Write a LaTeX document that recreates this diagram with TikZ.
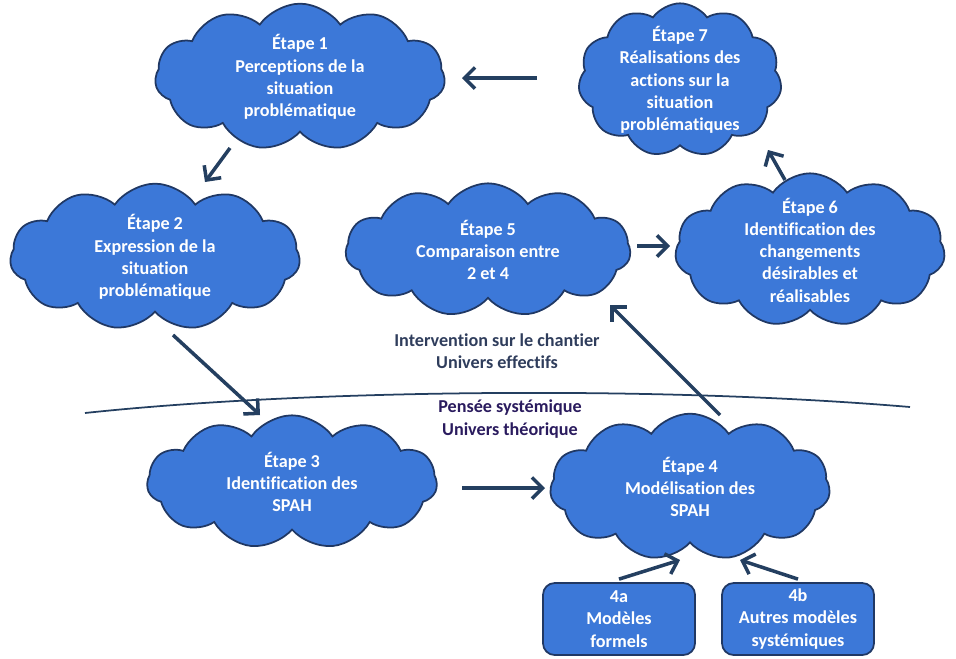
\documentclass[tikz,border=0pt]{standalone}
\usepackage{fontspec}
\setmainfont[Ligatures={NoCommon}]{Carlito}
\usetikzlibrary{arrows.meta,shapes.symbols,calc}
\definecolor{cloudblue}{HTML}{3C78D8}
\definecolor{edgenavy}{HTML}{203864}
\definecolor{arrownavy}{HTML}{243F60}
\definecolor{slatetext}{HTML}{2F3D5C}
\definecolor{purpletext}{HTML}{2A1B5E}

\begin{document}
\begin{tikzpicture}[x=0.03cm,y=-0.03cm,
  etape/.style={cloud,cloud puffs=11,cloud puff arc=110,cloud ignores aspect,draw=edgenavy,line width=1.5pt,fill=cloudblue,
    text=white,font=\bfseries\fontsize{15.5}{19}\selectfont,align=center,inner sep=-6pt},
  modele/.style={draw=edgenavy,line width=1.5pt,fill=cloudblue,rounded corners=10pt,
    text=white,font=\bfseries\fontsize{15.5}{19}\selectfont,align=center,
    minimum width=4.56cm,minimum height=2.16cm,inner sep=1pt},
  univers/.style={font=\bfseries\fontsize{15.5}{19}\selectfont,align=center},
  arr/.style={draw=arrownavy,line width=3pt,-{Straight Barb[length=9pt,width=18pt]}}]
\useasboundingbox (0,0) rectangle (956,658);

% clouds
\node[etape,minimum width=8.7cm,minimum height=4.4cm] (e1) at (300,77) {Étape 1\\Perceptions de la\\situation\\problématique};
\node[etape,minimum width=6.1cm,minimum height=4.6cm] (e7) at (680,80) {Étape 7\\Réalisations des\\actions sur la\\situation\\problématiques};
\node[etape,minimum width=8.7cm,minimum height=4.4cm] (e2) at (155,257) {Étape 2\\Expression de la\\situation\\problématique};
\node[etape,minimum width=8.55cm,minimum height=4cm] (e5) at (488,250) {Étape 5\\Comparaison entre\\2 et 4};
\node[etape,minimum width=8.1cm,minimum height=4.6cm] (e6) at (810,250) {Étape 6\\Identification des\\changements\\désirables et\\réalisables};
\node[etape,minimum width=8.7cm,minimum height=4cm] (e3) at (292,482) {Étape 3\\Identification des\\SPAH};
\node[etape,minimum width=8.4cm,minimum height=4.4cm] (e4) at (690,487) {Étape 4\\Modélisation des\\SPAH};

% models
\node[modele] (e4a) at (619,619) {4a\\Modèles\\formels};
\node[modele] (e4b) at (798,619) {4b\\Autres modèles\\systémiques};

% the two universes
\node[univers,text=slatetext] (t1) at (497,351) {Intervention sur le chantier\\Univers effectifs};
\node[univers,text=purpletext] (t2) at (510,419) {Pensée systémique\\Univers théorique};
\coordinate (l1) at (85,413);
\coordinate (l2) at (910,407);
\draw[arrownavy,line width=1.5pt] (l1) .. controls (300,390) and (650,385) .. (l2);

% arrows
\draw[arr] ($(e7)+(-143,-2)$) -- ($(e1)+(162,1)$);
\draw[arr] ($(e1)+(-70,71)$) -- ($(e2)+(50,-75)$);
\draw[arr] ($(e2)+(18,78)$) -- ($(e3)+(-32,-67)$);
\draw[arr] ($(e3)+(170,6)$) -- ($(e4)+(-145,1)$);
\draw[arr] ($(e4)+(30,-72)$) -- ($(e5)+(122,55)$);
\draw[arr] ($(e5)+(149,-4)$) -- ($(e6)+(-140,-4)$);
\draw[arr] ($(e6)+(-25,-70)$) -- ($(e7)+(88,70)$);
\draw[arr] ($(e4a.north)+(0,-3)$) -- ($(e4)+(-10,73)$);
\draw[arr] ($(e4b.north)+(0,-3)$) -- ($(e4)+(50,73)$);
\end{tikzpicture}
\end{document}
